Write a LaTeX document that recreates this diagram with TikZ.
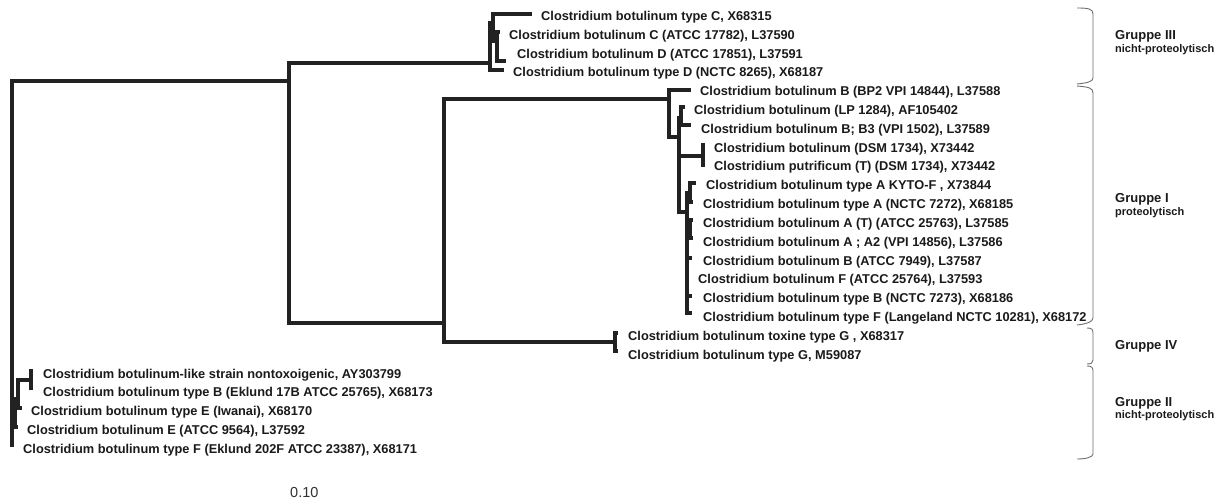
\documentclass[tikz,border=0pt]{standalone}
\usepackage{fontspec}
\setmainfont{Liberation Sans}
\definecolor{treec}{HTML}{222222}
\definecolor{txtc}{HTML}{1A1A1A}
\definecolor{bracec}{HTML}{6E6E6E}
\begin{document}
\begin{tikzpicture}[x=1pt,y=-1pt,
  br/.style={draw=treec,line width=3.2pt,line cap=rect,line join=miter},
  leaf/.style={anchor=base west,inner sep=0pt,text=txtc,font=\bfseries\fontsize{12.8}{13}\selectfont},
  grp/.style={anchor=base west,inner sep=0pt,text=txtc,font=\bfseries\fontsize{13}{14}\selectfont},
  sub/.style={anchor=base west,inner sep=0pt,text=txtc,font=\bfseries\fontsize{11}{12}\selectfont},
  brace/.style={draw=bracec,line width=0.9pt}]
\fill[white] (0,0) rectangle (1223,501);
\useasboundingbox (0,0) rectangle (1223,501);
% internal nodes and leaves
\coordinate (r) at (12,81);
\coordinate (n1) at (289,81);
\coordinate (n2) at (444,323);
\coordinate (g3a) at (490,63);
\coordinate (g3b) at (493,23);
\coordinate (g3c) at (497,41);
\coordinate (l1) at (530,14);
\coordinate (l2) at (498,32);
\coordinate (l3) at (504,61);
\coordinate (l4) at (502,70);
\coordinate (g1a) at (669,99);
\coordinate (g1b) at (679,137);
\coordinate (g1c) at (681,118);
\coordinate (g1d) at (703,156);
\coordinate (g1e) at (687,212);
\coordinate (g1f) at (690,193);
\coordinate (g1g) at (690,229);
\coordinate (l5) at (689,90);
\coordinate (l6) at (683,107);
\coordinate (l7) at (689,125);
\coordinate (l8) at (703,145);
\coordinate (l9) at (703,165);
\coordinate (l10) at (694,183);
\coordinate (l11) at (691,202);
\coordinate (l12) at (691,220);
\coordinate (l13) at (691,238);
\coordinate (l14) at (690,258);
\coordinate (l15) at (687,277);
\coordinate (l16) at (690,296);
\coordinate (l17) at (690,313);
\coordinate (g4) at (615,342);
\coordinate (l18) at (616,333);
\coordinate (l19) at (616,351);
\coordinate (g2a) at (15,413);
\coordinate (g2b) at (18,399);
\coordinate (g2c) at (31,380);
\coordinate (l20) at (31,371);
\coordinate (l21) at (31,388);
\coordinate (l22) at (20,408);
\coordinate (l23) at (16,427);
\coordinate (l24) at (12,445);
% branches
\draw[br] (r) |- (n1);
\draw[br] (r) |- (g2a);
\draw[br] (r) |- (l24);
\draw[br] (n1) |- (g3a);
\draw[br] (n1) |- (n2);
\draw[br] (n2) |- (g1a);
\draw[br] (n2) |- (g4);
\draw[br] (g3a) |- (g3b);
\draw[br] (g3a) |- (l4);
\draw[br] (g3b) |- (l1);
\draw[br] (g3b) |- (g3c);
\draw[br] (g3c) |- (l2);
\draw[br] (g3c) |- (l3);
\draw[br] (g1a) |- (l5);
\draw[br] (g1a) |- (g1b);
\draw[br] (g1b) |- (g1c);
\draw[br] (g1b) |- (g1d);
\draw[br] (g1b) |- (g1e);
\draw[br] (g1c) |- (l6);
\draw[br] (g1c) |- (l7);
\draw[br] (g1d) |- (l8);
\draw[br] (g1d) |- (l9);
\draw[br] (g1e) |- (g1f);
\draw[br] (g1e) |- (g1g);
\draw[br] (g1e) |- (l14);
\draw[br] (g1e) |- (l15);
\draw[br] (g1e) |- (l16);
\draw[br] (g1e) |- (l17);
\draw[br] (g1f) |- (l10);
\draw[br] (g1f) |- (l11);
\draw[br] (g1g) |- (l12);
\draw[br] (g1g) |- (l13);
\draw[br] (g4) |- (l18);
\draw[br] (g4) |- (l19);
\draw[br] (g2a) |- (g2b);
\draw[br] (g2a) |- (l23);
\draw[br] (g2b) |- (g2c);
\draw[br] (g2b) |- (l22);
\draw[br] (g2c) |- (l20);
\draw[br] (g2c) |- (l21);
% leaf labels
\node[leaf] (t1) at (541,20.3) {Clostridium botulinum type C, X68315};
\node[leaf] (t2) at (509,39.1) {Clostridium botulinum C (ATCC 17782), L37590};
\node[leaf] (t3) at (517,58.0) {Clostridium botulinum D (ATCC 17851), L37591};
\node[leaf] (t4) at (513,76.8) {Clostridium botulinum type D (NCTC 8265), X68187};
\node[leaf] (t5) at (700,95.6) {Clostridium botulinum B (BP2 VPI 14844), L37588};
\node[leaf] (t6) at (694,114.5) {Clostridium botulinum (LP 1284), AF105402};
\node[leaf] (t7) at (701,133.3) {Clostridium botulinum B; B3 (VPI 1502), L37589};
\node[leaf] (t8) at (714,152.1) {Clostridium botulinum (DSM 1734), X73442};
\node[leaf] (t9) at (714,170.9) {Clostridium putrificum (T) (DSM 1734), X73442};
\node[leaf] (t10) at (706,189.8) {Clostridium botulinum type A KYTO-F , X73844};
\node[leaf] (t11) at (703,208.6) {Clostridium botulinum type A (NCTC 7272), X68185};
\node[leaf] (t12) at (703,227.4) {Clostridium botulinum A (T) (ATCC 25763), L37585};
\node[leaf] (t13) at (703,246.3) {Clostridium botulinum A ; A2 (VPI 14856), L37586};
\node[leaf] (t14) at (703,265.1) {Clostridium botulinum B (ATCC 7949), L37587};
\node[leaf] (t15) at (698,283.9) {Clostridium botulinum F (ATCC 25764), L37593};
\node[leaf] (t16) at (703,302.8) {Clostridium botulinum type B (NCTC 7273), X68186};
\node[leaf] (t17) at (703,321.6) {Clostridium botulinum type F (Langeland NCTC 10281), X68172};
\node[leaf] (t18) at (628,340.4) {Clostridium botulinum toxine type G , X68317};
\node[leaf] (t19) at (628,359.3) {Clostridium botulinum type G, M59087};
\node[leaf] (t20) at (43,378.1) {Clostridium botulinum-like strain nontoxoigenic, AY303799};
\node[leaf] (t21) at (43,396.9) {Clostridium botulinum type B (Eklund 17B ATCC 25765), X68173};
\node[leaf] (t22) at (31,415.7) {Clostridium botulinum type E (Iwanai), X68170};
\node[leaf] (t23) at (27,434.6) {Clostridium botulinum E (ATCC 9564), L37592};
\node[leaf] (t24) at (23,453.4) {Clostridium botulinum type F (Eklund 202F ATCC 23387), X68171};
% scale text
\node[anchor=base west,inner sep=0pt,text=black!80,font=\fontsize{14.5}{15}\selectfont] (scale) at (290,497) {0.10};
% braces
\draw[brace] (1077,8) .. controls (1089,8) and (1093,9) .. (1093,14) -- (1093,78) .. controls (1093,82) and (1086,83) .. (1077,84);
\draw[brace] (1077,86) .. controls (1089,87) and (1093,88) .. (1093,93) -- (1093,318) .. controls (1093,322) and (1086,324) .. (1077,325);
\draw[brace] (1087,328) .. controls (1091,328) and (1093,329) .. (1093,333) -- (1093,360) .. controls (1093,363) and (1091,364) .. (1087,364);
\draw[brace] (1087,366) .. controls (1091,366) and (1093,367) .. (1093,371) -- (1093,454) .. controls (1093,457) and (1086,459) .. (1077,459);
% group labels
\node[grp] (G3) at (1115,39.7) {Gruppe III};
\node[sub] (G3s) at (1115,52.6) {nicht-proteolytisch};
\node[grp] (G1) at (1115,202.7) {Gruppe I};
\node[sub] (G1s) at (1115,215.6) {proteolytisch};
\node[grp] (G4) at (1115,349.7) {Gruppe IV};
\node[grp] (G2) at (1115,406.7) {Gruppe II};
\node[sub] (G2s) at (1115,418.6) {nicht-proteolytisch};
\end{tikzpicture}
\end{document}
